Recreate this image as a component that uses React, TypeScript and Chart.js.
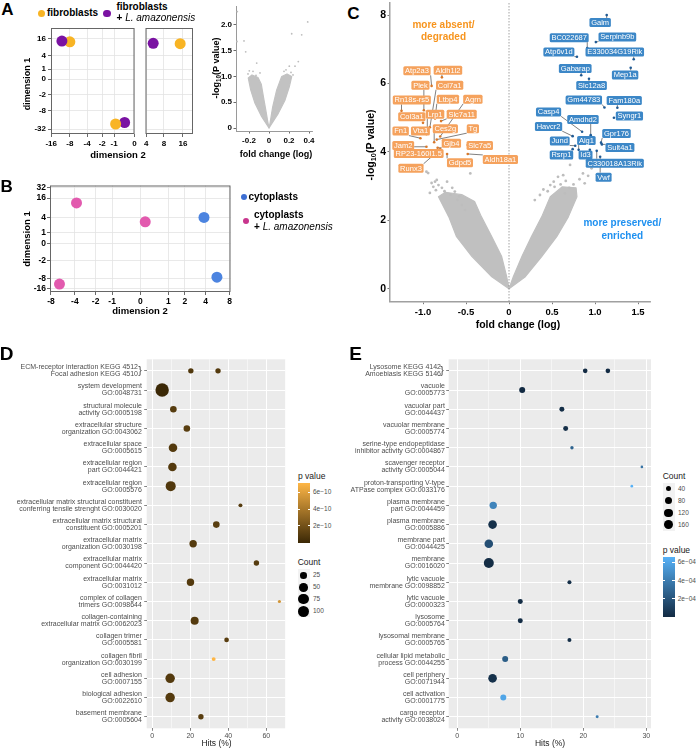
import React, { useEffect, useRef } from 'react';
import { Chart, registerables } from 'chart.js';

Chart.register(...registerables);
const SANS = "'Liberation Sans', Arial, Helvetica, sans-serif";
Chart.defaults.font.family = SANS;

/* ---------------- Panel A : MDS of fibroblasts ---------------- */
const fibroDim2 = [-8, -0.9, 14.5];
const fibroDim1 = [12.3, -22, 10.7];
const fibroLaDim2 = [-10.8, -0.4, 5.3];
const fibroLaDim1 = [13, -19.7, 11];
const aDim1Ticks = [-32, -8, -2, 0, 1, 4, 16];
const aDim2TicksLeft = [-16, -8, -4, -2, -1, 0];
const aDim2TicksRight = [4, 8, 16];

/* Panel A : small volcano */
const aVolcXTicks = [-0.2, 0, 0.2, 0.4];
const aVolcXLabels = ['-0.2', '0', '0.2', '0.4'];
const aVolcYTicks = [0, 0.5, 1, 1.5, 2];
const aVolcYLabels = ['0', '0.5', '1.0', '1.5', '2.0'];
const aCloudLeftFc = [0, -0.073, -0.14, -0.183, -0.207, -0.17, -0.11, -0.077, -0.057, -0.035, -0.012];
const aCloudLeftP = [0, 0.22, 0.48, 0.74, 0.97, 1.03, 0.98, 0.85, 0.62, 0.38, 0.12];
const aCloudRightFc = [0, 0.093, 0.16, 0.203, 0.227, 0.18, 0.127, 0.077, 0.037, 0.01];
const aCloudRightP = [0, 0.285, 0.54, 0.8, 1.0, 1.05, 1.0, 0.74, 0.41, 0.09];
const aOutFc = [-0.317, -0.32, -0.25, -0.233, -0.123, -0.197, -0.09, 0.387, 0.227, 0.327, 0.293, 0.203, 0.26, -0.21, -0.16, 0.15, 0.22, 0.24, -0.13, 0.17];
const aOutP = [2.26, 1.68, 1.69, 1.48, 1.26, 1.11, 1.07, 2.06, 1.83, 1.81, 1.29, 1.2, 1.2, 1.05, 1.1, 1.1, 1.08, 1.03, 1.02, 1.13];

/* ---------------- Panel B : MDS of cytoplasts ---------------- */
const cytoDim2 = [3.8, 5.6];
const cytoDim1 = [4.06, -7.3];
const cytoLaDim2 = [-3.8, 0.13, -6.3];
const cytoLaDim1 = [11.6, 2.86, -11.7];
const bDim1Ticks = [-16, -8, -2, 0, 1, 4, 16, 32];
const bDim2Ticks = [-8, -4, -2, -1, 0, 1, 2, 4, 8];

/* ---------------- Panel C : volcano ---------------- */
const cXTicks = [-1, -0.5, 0, 0.5, 1, 1.5];
const cXLabels = ['-1.0', '-0.5', '0', '0.5', '1.0', '1.5'];
const cYTicks = [0, 2, 4, 6, 8];
const cCloudLeftFc = [0, -0.2, -0.43, -0.61, -0.7, -0.82, -0.74, -0.55, -0.4, -0.32, -0.2, -0.085, -0.027];
const cCloudLeftP = [0, 0.35, 0.94, 1.52, 2.1, 2.69, 2.82, 2.75, 2.55, 2.1, 1.52, 0.94, 0.35];
const cCloudRightFc = [0, 0.19, 0.38, 0.555, 0.69, 0.79, 0.78, 0.62, 0.48, 0.38, 0.26, 0.15, 0.05];
const cCloudRightP = [0, 0.35, 0.94, 1.52, 2.1, 2.69, 2.95, 2.98, 2.69, 2.1, 1.52, 0.94, 0.35];
const cOutFc = [-0.96, -0.94, -0.9, -0.84, -0.82, -0.88, -0.72, -0.45, -0.86, -0.63, -0.51, -0.75, -0.6, -0.55, -0.68, -0.78, -0.92, -0.85, -0.66, -0.58, 0.63, 0.52, 0.48, 0.71, 0.57, 0.53, 0.86, 0.96, 0.36, 0.3, 0.6, 0.66, 0.75, 0.82, 0.45, 0.4, 0.7, 0.92, 0.65, 0.88];
const cOutP = [3.42, 3.38, 3.09, 3.18, 3.03, 2.98, 3.13, 3.37, 3.13, 2.84, 2.3, 2.85, 2.6, 2.45, 2.75, 2.95, 2.8, 2.88, 2.95, 2.7, 3.32, 3.13, 3.03, 3.62, 3.27, 2.98, 3.37, 3.52, 2.74, 2.59, 3.05, 3.15, 3.05, 3.2, 2.85, 2.9, 2.95, 3.3, 2.79, 3.08];

const downGenes = ['Atp2a3', 'Aldh1l2', 'Plek', 'Col7a1', 'Rn18s-rs5', 'Ltbp4', 'Agrn', 'Col3a1', 'Lrp1', 'Slc7a11', 'Fn1', 'Vta1', 'Ces2g', 'Tg', 'Jam2', 'Gjb4', 'Slc7a5', 'RP23-160I1.5', 'Gdpd5', 'Aldh18a1', 'Runx3'];
const downFc = [-0.9, -0.78, -0.99, -0.92, -1.25, -0.86, -0.8, -1.0, -0.95, -0.79, -1.03, -0.96, -0.87, -0.84, -0.96, -0.83, -0.48, -0.86, -0.72, -0.48, -0.8];
const downP = [5.93, 6.18, 5.22, 4.72, 5.2, 4.98, 4.45, 4.85, 4.62, 4.9, 4.4, 4.52, 4.28, 4.36, 4.15, 4.12, 4.2, 3.98, 3.94, 3.94, 4.08];
const downLabelFc = [-1.07, -0.71, -1.03, -0.69, -1.13, -0.71, -0.42, -1.13, -0.86, -0.55, -1.26, -1.03, -0.74, -0.42, -1.23, -0.67, -0.34, -1.05, -0.57, -0.1, -1.14];
const downLabelP = [6.37, 6.39, 5.95, 5.95, 5.52, 5.54, 5.54, 5.03, 5.1, 5.1, 4.61, 4.61, 4.68, 4.68, 4.19, 4.25, 4.19, 3.95, 3.68, 3.78, 3.52];

const upGenes = ['Galm', 'BC022687', 'Serpinb9b', 'Atp6v1d', 'E330034G19Rik', 'Gabarap', 'Mep1a', 'Slc12a8', 'Gm44783', 'Fam180a', 'Casp4', 'Syngr1', 'Amdhd2', 'Havcr2', 'Gpr176', 'Aig1', 'Jund', 'Sult4a1', 'Rsrp1', 'Id3', 'C330018A13Rik', 'Vwf'];
const upFc = [1.136, 0.91, 1.01, 0.79, 1.45, 0.84, 1.415, 0.93, 1.11, 1.26, 0.85, 1.22, 0.95, 0.74, 1.07, 0.81, 0.77, 1.08, 0.74, 0.94, 1.02, 1.06];
const upP = [8.0, 7.04, 7.21, 6.78, 6.71, 6.24, 6.46, 6.14, 5.3, 5.29, 4.59, 5.0, 4.49, 4.46, 4.27, 4.06, 4.18, 4.22, 4.08, 4.06, 4.03, 3.86];
const upLabelFc = [1.06, 0.7, 1.26, 0.58, 1.23, 0.77, 1.35, 0.96, 0.87, 1.34, 0.46, 1.4, 0.86, 0.46, 1.25, 0.9, 0.59, 1.29, 0.61, 0.89, 1.23, 1.1];
const upLabelP = [7.78, 7.34, 7.36, 6.92, 6.92, 6.44, 6.25, 5.94, 5.52, 5.5, 5.17, 5.05, 4.95, 4.74, 4.54, 4.33, 4.32, 4.13, 3.91, 3.91, 3.67, 3.26];

/* ---------------- Panel D : enrichment (degraded) ---------------- */
const dRowLabels: string[][] = [
  ['ECM-receptor interaction KEGG 4512  ', 'Focal adhesion KEGG 4510  '],
  ['system development', 'GO:0048731'],
  ['structural molecule', 'activity GO:0005198'],
  ['extracellular structure', 'organization GO:0043062'],
  ['extracellular space', 'GO:0005615'],
  ['extracellular region', 'part GO:0044421'],
  ['extracellular region', 'GO:0005576'],
  ['extracellular matrix structural constituent', 'conferring tensile strenght GO:0030020'],
  ['extracellular matrix structural', 'constituent GO:0005201'],
  ['extracellular matrix', 'organization GO:0030198'],
  ['extracellular matrix', 'component GO:0044420'],
  ['extracellular matrix', 'GO:0031012'],
  ['complex of collagen', 'trimers GO:0098644'],
  ['collagen-containing', 'extracellular matrix GO:0062023'],
  ['collagen trimer', 'GO:0005581'],
  ['collagen fibril', 'organization GO:0030199'],
  ['cell adhesion', 'GO:0007155'],
  ['biological adhesion', 'GO:0022610'],
  ['basement membrane', 'GO:0005604'],
];
const dTermRow = [1, 1, 2, 3, 4, 5, 6, 7, 8, 9, 10, 11, 12, 13, 14, 15, 16, 17, 18, 19];
const dHits = [20.3, 34.6, 5.2, 11.1, 18.2, 10.9, 10.6, 9.7, 46.4, 33.7, 21.5, 54.8, 20.1, 66.9, 22.3, 39.1, 32.3, 9.4, 9.4, 25.6];
const dCount = [14, 14, 146, 25, 25, 50, 50, 73, 5, 25, 34, 14, 34, 2, 42, 9, 5, 63, 63, 14];
const dPval = [0.8e-10, 0.9e-10, 1e-15, 1.0e-10, 1.1e-10, 0.9e-10, 0.9e-10, 0.8e-10, 1.0e-10, 1.1e-10, 1.0e-10, 1.0e-10, 0.9e-10, 5.5e-10, 0.9e-10, 1.1e-10, 7.15e-10, 0.9e-10, 0.9e-10, 1.1e-10];
const dXTicks = [0, 10, 20, 30, 40, 50, 60, 70];
const dCountLegend = [25, 50, 75, 100];
const dPLegend = [6e-10, 4e-10, 2e-10];
const dPLegendLabels = ['6e\u221210', '4e\u221210', '2e\u221210'];

/* ---------------- Panel E : enrichment (preserved) ---------------- */
const eRowLabels: string[][] = [
  ['Lysosome KEGG 4142  ', 'Amoebiasis KEGG 5146  '],
  ['vacuole', 'GO:0005773'],
  ['vacuolar part', 'GO:0044437'],
  ['vacuolar membrane', 'GO:0005774'],
  ['serine-type endopeptidase', 'inhibitor activity GO:0004867'],
  ['scavenger receptor', 'activity GO:0005044'],
  ['proton-transporting V-type', 'ATPase complex GO:0033176'],
  ['plasma membrane', 'part GO:0044459'],
  ['plasma membrane', 'GO:0005886'],
  ['membrane part', 'GO:0044425'],
  ['membrane', 'GO:0016020'],
  ['lytic vacuole', 'membrane GO:0098852'],
  ['lytic vacuole', 'GO:0000323'],
  ['lysosome', 'GO:0005764'],
  ['lysosomal membrane', 'GO:0005765'],
  ['cellular lipid metabolic', 'process GO:0044255'],
  ['cell periphery', 'GO:0071944'],
  ['cell activation', 'GO:0001775'],
  ['cargo receptor', 'activity GO:0038024'],
];
const eTermRow = [1, 1, 2, 3, 4, 5, 6, 7, 8, 9, 10, 11, 12, 13, 14, 15, 16, 17, 18, 19];
const eHits = [20.3, 23.9, 10.3, 16.6, 17.2, 18.2, 29.3, 27.7, 5.7, 5.6, 5.0, 5.0, 17.8, 10.0, 10.0, 17.8, 7.6, 5.6, 7.3, 22.2];
const eCount = [26, 26, 53, 32, 32, 10, 4, 4, 90, 130, 130, 185, 17, 32, 32, 17, 53, 130, 53, 6];
const ePval = [2e-6, 3e-6, 1e-6, 1.5e-5, 2e-5, 2.8e-4, 3.6e-4, 6.59e-4, 4.4e-4, 3e-5, 1.8e-4, 1e-5, 2e-5, 1e-5, 1e-5, 2e-5, 2.5e-4, 3e-5, 6.0e-4, 4.0e-4];
const eXTicks = [0, 5, 10, 15, 20, 25, 30];
const eCountLegend = [40, 80, 120, 160];
const ePLegend = [6e-4, 4e-4, 2e-4];
const ePLegendLabels = ['6e\u221204', '4e\u221204', '2e\u221204'];

/* ---------------- colours & helpers ---------------- */
const ORANGE = '#F8B424';
const PURPLE = '#7A12A2';
const CYTO_BLUE = '#4C84E0';
const CYTO_MAG = '#E25AAE';
const D_LOW = '#3B2806';
const D_HIGH = '#FEB646';
const E_LOW = '#132B43';
const E_HIGH = '#56B1F7';

const plog = (v: number) => Math.sign(v) * Math.log2(1 + Math.abs(v));
const zip = (xs: number[], ys: number[]) => xs.map((x, i) => ({ x, y: ys[i] }));
function hexRgb(h: string) {
  const n = parseInt(h.slice(1), 16);
  return [(n >> 16) & 255, (n >> 8) & 255, n & 255];
}
function lerpColor(a: string, b: string, t: number) {
  const A = hexRgb(a), B = hexRgb(b);
  const u = Math.max(0, Math.min(1, t));
  return `rgb(${A.map((v, i) => Math.round(v + (B[i] - v) * u)).join(',')})`;
}
const dPMin = Math.min(...dPval), dPMax = Math.max(...dPval);
const ePMin = Math.min(...ePval), ePMax = Math.max(...ePval);
const dColor = (p: number) => lerpColor(D_LOW, D_HIGH, (p - dPMin) / (dPMax - dPMin));
const eColor = (p: number) => lerpColor(E_LOW, E_HIGH, (p - ePMin) / (ePMax - ePMin));
const dRadius = (c: number) => 0.9 + 0.48 * Math.sqrt(c);
const eRadius = (c: number) => 0.7 + 0.316 * Math.sqrt(c);

type Box = { x: number; y: number; w: number; h: number };
type Area = { l: number; t: number; r: number; b: number };

type AxisOpts = {
  min: number; max: number; ticks: number[]; labels?: (string | string[])[] | null;
  reverse?: boolean; font?: any; color?: string; tickLen?: number; pad?: number;
  tickColor?: any; tickWidth?: any; gridOn?: boolean; gridColor?: any; gridWidth?: any; border?: any;
  forceW?: number; forceH?: number;
};
function axis(o: AxisOpts) {
  const tl = o.tickLen ?? 0;
  return {
    type: 'linear', min: o.min, max: o.max, reverse: !!o.reverse,
    afterBuildTicks: (s: any) => { s.ticks = o.ticks.map((v) => ({ value: v })); },
    afterFit: (s: any) => {
      if (o.forceW !== undefined) s.width = o.forceW;
      if (o.forceH !== undefined) s.height = o.forceH;
      s.paddingLeft = 0; s.paddingRight = 0; s.paddingTop = 0; s.paddingBottom = 0;
    },
    ticks: {
      display: !!o.labels, autoSkip: false, maxRotation: 0, minRotation: 0,
      padding: o.pad ?? 2, font: o.font, color: o.color ?? '#000',
      callback: (_v: any, i: number) => (o.labels ? o.labels[i] : ''),
    },
    grid: {
      display: true, drawOnChartArea: !!o.gridOn, color: o.gridColor ?? '#e3e3e3', lineWidth: o.gridWidth ?? 0.8,
      drawTicks: tl > 0, tickLength: tl, tickColor: o.tickColor ?? '#444', tickWidth: o.tickWidth ?? 0.8,
    },
    border: o.border ?? { display: false },
  };
}

function scatterConfig(box: Box, area: Area, x: AxisOpts, y: AxisOpts, datasets: any[], plugins: any[]) {
  return {
    type: 'scatter',
    data: { datasets },
    options: {
      responsive: false, maintainAspectRatio: false, animation: false, devicePixelRatio: 1, events: [],
      layout: { padding: { left: 0, bottom: 0, top: area.t - box.y, right: box.x + box.w - area.r } },
      plugins: { legend: { display: false }, tooltip: { enabled: false } },
      scales: {
        x: axis({ ...x, forceH: box.y + box.h - area.b }),
        y: axis({ ...y, forceW: area.l - box.x }),
      },
    },
    plugins,
  };
}

const pts = (data: any[], radius: any, color: any) => ({
  data, pointRadius: radius, pointBackgroundColor: color, backgroundColor: color,
  pointBorderWidth: 0, borderWidth: 0, showLine: false, pointHoverRadius: radius,
});

const framePlugin = (color: string) => ({
  id: 'frame',
  afterDatasetsDraw(chart: any) {
    const { ctx, chartArea: a } = chart;
    ctx.save(); ctx.strokeStyle = color; ctx.lineWidth = 1;
    ctx.strokeRect(a.left + 0.5, a.top + 0.5, a.right - a.left - 1, a.bottom - a.top - 1);
    ctx.restore();
  },
});
const bgPlugin = (color: string) => ({
  id: 'panelbg',
  beforeDraw(chart: any) {
    const { ctx, chartArea: a } = chart;
    ctx.save(); ctx.fillStyle = color; ctx.fillRect(a.left, a.top, a.right - a.left, a.bottom - a.top); ctx.restore();
  },
});
const polyPlugin = (polys: { xs: number[]; ys: number[] }[], color: string) => ({
  id: 'cloud',
  beforeDatasetsDraw(chart: any) {
    const { ctx, chartArea: a, scales: { x, y } } = chart;
    ctx.save();
    ctx.beginPath(); ctx.rect(a.left, a.top, a.right - a.left, a.bottom - a.top); ctx.clip();
    ctx.fillStyle = color; ctx.strokeStyle = color; ctx.lineWidth = 1.2; ctx.lineJoin = 'round';
    for (const p of polys) {
      ctx.beginPath();
      p.xs.forEach((v, i) => {
        const px = x.getPixelForValue(v), py = y.getPixelForValue(p.ys[i]);
        if (i === 0) ctx.moveTo(px, py); else ctx.lineTo(px, py);
      });
      ctx.closePath(); ctx.fill(); ctx.stroke();
    }
    ctx.restore();
  },
});
const bracketPlugin = {
  id: 'bracket',
  afterDraw(chart: any) {
    const { ctx, chartArea: a, scales: { y } } = chart;
    ctx.save();
    ctx.font = `11px ${SANS}`; ctx.fillStyle = '#4d4d4d'; ctx.textAlign = 'center'; ctx.textBaseline = 'middle';
    ctx.fillText('}', a.left - 6.5, y.getPixelForValue(1) + 0.5);
    ctx.restore();
  },
};

const geneGroups = [
  { names: downGenes, fc: downFc, p: downP, lfc: downLabelFc, lp: downLabelP, fill: '#F5A25D' },
  { names: upGenes, fc: upFc, p: upP, lfc: upLabelFc, lp: upLabelP, fill: '#3C87C7' },
];
function labelRect(ctx: any, name: string, cx: number, cy: number) {
  const w = ctx.measureText(name).width + 3.5, h = 9;
  return { x: cx - w / 2, y: cy - h / 2, w, h };
}
const geneLabelPlugin = {
  id: 'geneLabels',
  beforeDatasetsDraw(chart: any) {
    const { ctx, scales: { x, y } } = chart;
    ctx.save();
    const zx = x.getPixelForValue(0);
    ctx.strokeStyle = '#8a8a8a'; ctx.lineWidth = 0.8; ctx.setLineDash([1.5, 1.5]);
    ctx.beginPath(); ctx.moveTo(zx, chart.chartArea.top); ctx.lineTo(zx, chart.chartArea.bottom); ctx.stroke();
    ctx.setLineDash([]);
    ctx.font = `7.5px ${SANS}`;
    ctx.strokeStyle = '#2a2a2a'; ctx.lineWidth = 0.6;
    for (const g of geneGroups) {
      g.names.forEach((n, i) => {
        const px = x.getPixelForValue(g.fc[i]), py = y.getPixelForValue(g.p[i]);
        const r = labelRect(ctx, n, x.getPixelForValue(g.lfc[i]), y.getPixelForValue(g.lp[i]));
        const qx = Math.max(r.x, Math.min(px, r.x + r.w)), qy = Math.max(r.y, Math.min(py, r.y + r.h));
        if (Math.hypot(qx - px, qy - py) > 2) {
          ctx.beginPath(); ctx.moveTo(px, py); ctx.lineTo(qx, qy); ctx.stroke();
        }
      });
    }
    ctx.restore();
  },
  afterDatasetsDraw(chart: any) {
    const { ctx, scales: { x, y } } = chart;
    ctx.save();
    ctx.font = `7.5px ${SANS}`; ctx.textAlign = 'center'; ctx.textBaseline = 'middle';
    for (const g of geneGroups) {
      g.names.forEach((n, i) => {
        const r = labelRect(ctx, n, x.getPixelForValue(g.lfc[i]), y.getPixelForValue(g.lp[i]));
        ctx.fillStyle = g.fill;
        ctx.beginPath();
        if (ctx.roundRect) ctx.roundRect(r.x, r.y, r.w, r.h, 1.5); else ctx.rect(r.x, r.y, r.w, r.h);
        ctx.fill();
        ctx.fillStyle = '#ffffff';
        ctx.fillText(n, r.x + r.w / 2, r.y + r.h / 2 + 0.3);
      });
    }
    ctx.restore();
  },
};

/* ---------------- chart factories ---------------- */
const boldF = (s: number) => ({ size: s, weight: 'bold', family: SANS });
const A_Y = { min: -(134 - 79) / 9.95, max: (79 - 28) / 9.95 };

function aDatasets(inRange: (v: number) => boolean) {
  const fi = fibroDim2.map((_, i) => i).filter((i) => inRange(fibroDim2[i]));
  const li = fibroLaDim2.map((_, i) => i).filter((i) => inRange(fibroLaDim2[i]));
  const P = (xs: number[], ys: number[], idx: number[]) => idx.map((i) => ({ x: plog(xs[i]), y: plog(ys[i]) }));
  // draw order as in the figure: purple under orange for the upper pair, over it for the lower pair
  return [
    pts(P(fibroLaDim2, fibroLaDim1, li.filter((i) => fibroLaDim1[i] > 0)), 5.5, PURPLE),
    pts(P(fibroDim2, fibroDim1, fi), 5.5, ORANGE),
    pts(P(fibroLaDim2, fibroLaDim1, li.filter((i) => fibroLaDim1[i] <= 0)), 5.5, PURPLE),
  ];
}

function makeALeft() {
  const box = { x: 0, y: 20, w: 140, h: 140 };
  const area = { l: 51, t: 28, r: 137, b: 134 };
  return scatterConfig(box, area,
    { min: -(137 - 51) / 21, max: 0, ticks: aDim2TicksLeft.map(plog), labels: aDim2TicksLeft.map(String), font: boldF(8), tickLen: 3, pad: 2, gridOn: true },
    { min: A_Y.min, max: A_Y.max, ticks: aDim1Ticks.map(plog), labels: aDim1Ticks.map(String), font: boldF(8), tickLen: 3, pad: 2, gridOn: true },
    aDatasets((v) => v <= 0),
    [framePlugin('#666')]);
}
function makeARight() {
  const box = { x: 140, y: 20, w: 60, h: 140 };
  const area = { l: 145, t: 28, r: 193, b: 134 };
  return scatterConfig(box, area,
    { min: (145 - 97) / 21, max: (193 - 97) / 21, ticks: aDim2TicksRight.map(plog), labels: aDim2TicksRight.map(String), font: boldF(8), tickLen: 3, pad: 2, gridOn: true },
    { min: A_Y.min, max: A_Y.max, ticks: aDim1Ticks.map(plog), labels: null, tickLen: 0, gridOn: true },
    aDatasets((v) => v > 0),
    [framePlugin('#666')]);
}
function makeAVolcano() {
  const box = { x: 200, y: 0, w: 130, h: 160 };
  const area = { l: 236, t: 6, r: 312, b: 131 };
  const border = { display: true, color: '#9a9a9a', width: 1 };
  return scatterConfig(box, area,
    { min: (236 - 269) / 100, max: (312 - 269) / 100, ticks: aVolcXTicks, labels: aVolcXLabels, font: boldF(8), tickLen: 2.5, pad: 2.5, border },
    { min: (128 - 131) / 51.5, max: (128 - 6) / 51.5, ticks: aVolcYTicks, labels: aVolcYLabels, font: boldF(8), tickLen: 2.5, pad: 1.5, border },
    [pts(zip(aOutFc, aOutP), 0.9, '#bdbdbd')],
    [polyPlugin([{ xs: aCloudLeftFc, ys: aCloudLeftP }, { xs: aCloudRightFc, ys: aCloudRightP }], '#c2c2c2')]);
}
function makeB() {
  const box = { x: 0, y: 180, w: 236, h: 140 };
  const area = { l: 50, t: 185.3, r: 232, b: 292 };
  return scatterConfig(box, area,
    { min: (50 - 141) / 28.4, max: (232 - 141) / 28.4, ticks: bDim2Ticks.map(plog), labels: bDim2Ticks.map(String), font: boldF(8.5), tickLen: 3, pad: 1.5, gridOn: true },
    { min: (243.3 - 292) / 11.1, max: (243.3 - 185.3) / 11.1, ticks: bDim1Ticks.map(plog), labels: bDim1Ticks.map(String), font: boldF(8.5), tickLen: 3, pad: 1, gridOn: true },
    [
      pts(zip(cytoDim2.map(plog), cytoDim1.map(plog)), 5.5, CYTO_BLUE),
      pts(zip(cytoLaDim2.map(plog), cytoLaDim1.map(plog)), 5.5, CYTO_MAG),
    ],
    [framePlugin('#666')]);
}
function makeC() {
  const box = { x: 360, y: 0, w: 336, h: 330 };
  const area = { l: 390, t: 3, r: 650, b: 301.7 };
  const border = { display: true, color: '#a0a0a0', width: 1.5 };
  return scatterConfig(box, area,
    { min: (390 - 509) / 86, max: (650 - 509) / 86, ticks: cXTicks, labels: cXLabels, font: boldF(9.5), tickLen: 2.5, pad: 2, tickColor: '#555', border },
    { min: (288.7 - 301.7) / 34.2, max: (288.7 - 3) / 34.2, ticks: cYTicks, labels: cYTicks.map(String), font: boldF(10.5), tickLen: 2.5, pad: 1.5, tickColor: '#555', border },
    [
      pts(zip(cOutFc, cOutP), 1.4, '#bdbdbd'),
      pts(zip(downFc, downP), 1.3, '#D9782A'),
      pts(zip(upFc, upP), 1.3, '#1F5A94'),
    ],
    [polyPlugin([{ xs: cCloudLeftFc, ys: cCloudLeftP }, { xs: cCloudRightFc, ys: cCloudRightP }], '#c0c0c0'), geneLabelPlugin]);
}
function makeEnrich(box: Box, area: Area, x0px: number, pxPerUnit: number, xTicks: number[], majorEvery: number,
  rowLabels: string[][], rows: number[], hits: number[], counts: number[], pvals: number[],
  rad: (c: number) => number, col: (p: number) => string, ypad: number) {
  const isMajor = (v: number) => Math.abs(v % majorEvery) < 1e-9;
  const rowTicks = rowLabels.map((_, i) => i + 1);
  return scatterConfig(box, area,
    {
      min: (area.l - x0px) / pxPerUnit, max: (area.r - x0px) / pxPerUnit, ticks: xTicks,
      labels: xTicks.map((v) => (isMajor(v) ? String(v) : '')),
      font: { size: 7, family: SANS }, color: '#4d4d4d', tickLen: 2.5, pad: 0.8, gridOn: true,
      gridColor: '#ffffff', gridWidth: (c: any) => (isMajor(c.tick.value) ? 1 : 0.5),
      tickColor: (c: any) => (isMajor(c.tick.value) ? '#333333' : 'rgba(0,0,0,0)'), tickWidth: 0.6,
    },
    {
      min: 0.4, max: 19.6, reverse: true, ticks: rowTicks, labels: rowLabels,
      font: { size: 7, family: SANS, lineHeight: 1.0 }, color: '#4d4d4d', tickLen: 2.5, pad: ypad, gridOn: true,
      gridColor: '#ffffff', gridWidth: 1, tickColor: '#333333', tickWidth: 0.6,
    },
    [pts(zip(hits, rows), counts.map(rad), pvals.map(col))],
    [bgPlugin('#ebebeb'), bracketPlugin]);
}
const makeD = () => makeEnrich({ x: 0, y: 350, w: 292, h: 398 }, { l: 146.7, t: 359.3, r: 286, b: 728.3 }, 152.3, 1.91, dXTicks, 20,
  dRowLabels, dTermRow, dHits, dCount, dPval, dRadius, dColor, 2.3);
const makeE = () => makeEnrich({ x: 350, y: 350, w: 306, h: 398 }, { l: 448.7, t: 359.3, r: 651, b: 728.3 }, 457.3, 6.3, eXTicks, 10,
  eRowLabels, eTermRow, eHits, eCount, ePval, eRadius, eColor, 1.3);

/* ---------------- React components ---------------- */
const ChartCanvas: React.FC<{ box: Box; make: () => any }> = ({ box, make }) => {
  const ref = useRef<HTMLCanvasElement | null>(null);
  useEffect(() => {
    if (!ref.current) return;
    const chart = new Chart(ref.current, make() as any);
    return () => chart.destroy();
  }, []);
  return (
    <canvas ref={ref} width={box.w} height={box.h}
      style={{ position: 'absolute', left: box.x, top: box.y, width: box.w, height: box.h, display: 'block' }} />
  );
};

type TxtProps = {
  x: number; y: number; size: number; bold?: boolean; italic?: boolean; color?: string;
  start?: boolean; rotate?: boolean; children: React.ReactNode;
};
const Txt: React.FC<TxtProps> = (p) => (
  <div style={{
    position: 'absolute', left: p.x, top: p.y, whiteSpace: 'nowrap', lineHeight: 1,
    fontFamily: SANS, fontSize: p.size, fontWeight: p.bold ? 'bold' : 'normal', fontStyle: p.italic ? 'italic' : 'normal',
    color: p.color ?? '#000',
    transform: `translate(${p.start ? '0' : '-50%'}, -50%)${p.rotate ? ' rotate(-90deg)' : ''}`,
  }}>{p.children}</div>
);
const Dot: React.FC<{ x: number; y: number; r: number; color: string }> = ({ x, y, r, color }) => (
  <div style={{ position: 'absolute', left: x - r, top: y - r, width: 2 * r, height: 2 * r, borderRadius: '50%', background: color }} />
);

const LogP: React.FC = () => (<span>-log<sub style={{ fontSize: '0.7em', verticalAlign: '-0.25em' }}>10</sub>(P value)</span>);

const ColorBar: React.FC<{ x: number; y: number; w: number; h: number; low: string; high: string; vmin: number; vmax: number; ticks: number[]; labels: string[] }> = (p) => (
  <>
    <div style={{ position: 'absolute', left: p.x, top: p.y, width: p.w, height: p.h, background: `linear-gradient(to top, ${p.low}, ${p.high})` }} />
    {p.ticks.map((v, i) => {
      const ty = p.y + p.h - ((v - p.vmin) / (p.vmax - p.vmin)) * p.h;
      return (
        <React.Fragment key={i}>
          <div style={{ position: 'absolute', left: p.x, top: ty - 0.5, width: 2.4, height: 1, background: '#fff' }} />
          <div style={{ position: 'absolute', left: p.x + p.w - 2.4, top: ty - 0.5, width: 2.4, height: 1, background: '#fff' }} />
          <Txt x={p.x + p.w + 3} y={ty} size={6.5} color="#4d4d4d" start>{p.labels[i]}</Txt>
        </React.Fragment>
      );
    })}
  </>
);
const SizeKeys: React.FC<{ x: number; y0: number; step: number; counts: number[]; rad: (c: number) => number }> = (p) => (
  <>
    {p.counts.map((c, i) => {
      const cy = p.y0 + i * p.step;
      return (
        <React.Fragment key={i}>
          <div style={{ position: 'absolute', left: p.x, top: cy - 6, width: 12, height: 12, background: '#f2f2f2' }} />
          <Dot x={p.x + 6} y={cy} r={p.rad(c)} color="#000" />
          <Txt x={p.x + 15.5} y={cy} size={6.5} color="#4d4d4d" start>{String(c)}</Txt>
        </React.Fragment>
      );
    })}
  </>
);

export default function App() {
  return (
    <div style={{ position: 'absolute', left: 0, top: 0, width: 696, height: 748, background: '#fff', overflow: 'hidden' }}>
      <ChartCanvas box={{ x: 0, y: 20, w: 140, h: 140 }} make={makeALeft} />
      <ChartCanvas box={{ x: 140, y: 20, w: 60, h: 140 }} make={makeARight} />
      <ChartCanvas box={{ x: 200, y: 0, w: 130, h: 160 }} make={makeAVolcano} />
      <ChartCanvas box={{ x: 0, y: 180, w: 236, h: 140 }} make={makeB} />
      <ChartCanvas box={{ x: 360, y: 0, w: 336, h: 330 }} make={makeC} />
      <ChartCanvas box={{ x: 0, y: 350, w: 292, h: 398 }} make={makeD} />
      <ChartCanvas box={{ x: 350, y: 350, w: 306, h: 398 }} make={makeE} />

      {/* panel letters */}
      <Txt x={7.5} y={8.7} size={17} bold>A</Txt>
      <Txt x={6.7} y={186.3} size={17} bold>B</Txt>
      <Txt x={353.3} y={12.5} size={17} bold>C</Txt>
      <Txt x={6.7} y={353} size={19} bold>D</Txt>
      <Txt x={355.5} y={353.3} size={19} bold>E</Txt>

      {/* A legend + titles */}
      <Dot x={41.7} y={13.3} r={3.7} color={ORANGE} />
      <Txt x={47} y={13.3} size={10} bold start>fibroblasts</Txt>
      <Dot x={107} y={13.3} r={3.7} color={PURPLE} />
      <Txt x={116.5} y={6.5} size={10} bold start>fibroblasts</Txt>
      <Txt x={116.5} y={17.8} size={10} start><b>+ </b><i>L. amazonensis</i></Txt>
      <Txt x={26.7} y={84} size={9} bold rotate>dimension 1</Txt>
      <Txt x={118} y={155} size={9.5} bold>dimension 2</Txt>
      <Txt x={217} y={68} size={9} bold rotate><LogP /></Txt>
      <Txt x={276} y={154} size={9} bold>fold change (log)</Txt>

      {/* B legend + titles */}
      <Dot x={244} y={196.7} r={3.2} color="#3D6FD3" />
      <Txt x={248.5} y={196.7} size={10} bold start>cytoplasts</Txt>
      <Dot x={245.7} y={220.7} r={3.2} color="#C8358D" />
      <Txt x={254} y={215} size={10} bold start>cytoplasts</Txt>
      <Txt x={254} y={226.7} size={10} start><b>+ </b><i>L. amazonensis</i></Txt>
      <Txt x={26.7} y={239} size={9.5} bold rotate>dimension 1</Txt>
      <Txt x={140} y={311} size={9.5} bold>dimension 2</Txt>

      {/* C titles + annotations */}
      <Txt x={371} y={145} size={10.5} bold rotate><LogP /></Txt>
      <Txt x={518} y={324} size={10.5} bold>fold change (log)</Txt>
      <Txt x={443.5} y={25} size={10} bold color="#F7941D">more absent/</Txt>
      <Txt x={443.5} y={36.7} size={10} bold color="#F7941D">degraded</Txt>
      <Txt x={622.3} y={223.3} size={10} bold color="#1E90F0">more preserved/</Txt>
      <Txt x={622.3} y={235.7} size={10} bold color="#1E90F0">enriched</Txt>

      {/* D axis title + legends */}
      <Txt x={216.5} y={742.5} size={8.5} color="#1a1a1a">Hits (%)</Txt>
      <Txt x={298} y={475.7} size={8.5} color="#1a1a1a" start>p value</Txt>
      <ColorBar x={298} y={482.7} w={12} h={60} low={D_LOW} high={D_HIGH} vmin={dPMin} vmax={dPMax} ticks={dPLegend} labels={dPLegendLabels} />
      <Txt x={297.7} y={562.3} size={8.5} color="#1a1a1a" start>Count</Txt>
      <SizeKeys x={297.5} y0={575.3} step={12} counts={dCountLegend} rad={dRadius} />

      {/* E axis title + legends */}
      <Txt x={550} y={742.5} size={8.5} color="#1a1a1a">Hits (%)</Txt>
      <Txt x={662.7} y={475.7} size={8.5} color="#1a1a1a" start>Count</Txt>
      <SizeKeys x={662.5} y0={488.7} step={12} counts={eCountLegend} rad={eRadius} />
      <Txt x={662.7} y={550} size={8.5} color="#1a1a1a" start>p value</Txt>
      <ColorBar x={662.7} y={556.7} w={12} h={60.6} low={E_LOW} high={E_HIGH} vmin={ePMin} vmax={ePMax} ticks={ePLegend} labels={ePLegendLabels} />
    </div>
  );
}
